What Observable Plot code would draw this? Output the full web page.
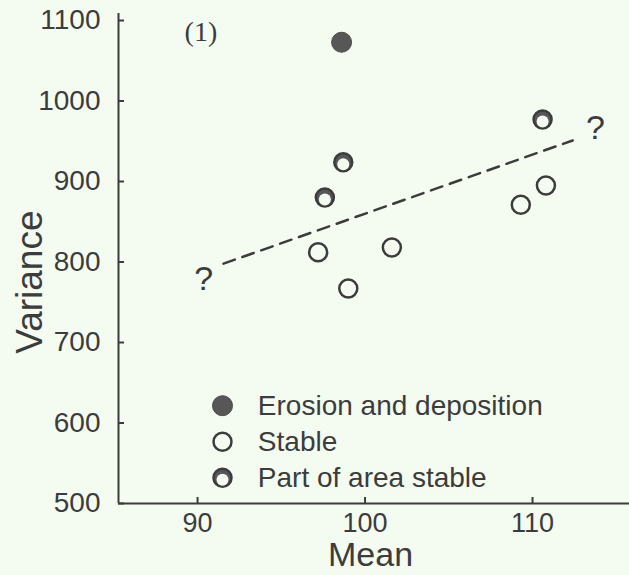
<!DOCTYPE html>
<html>
<head>
<meta charset="utf-8">
<script src="https://cdn.jsdelivr.net/npm/d3@7"></script>
<script src="https://cdn.jsdelivr.net/npm/@observablehq/plot@0.6"></script>
<style>
  html, body { margin: 0; padding: 0; background: #f4fbf1; }
  #chart svg { display: block; }
</style>
</head>
<body>
<div id="chart"></div>
<script>
// ---- data ----
const erosionMean = [98.6];
const erosionVar  = [1073];
const stableMean  = [97.2, 99.0, 101.6, 109.3, 110.8];
const stableVar   = [812, 767, 818, 871, 895];
const partMean    = [97.6, 98.7, 110.6];
const partVar     = [880, 924, 977];
const trendMean   = [91.55, 112.4];
const trendVar    = [798, 951];
const questionMean = [90.36, 113.76];
const questionVar  = [779, 966];
const legendLabels = ["Erosion and deposition", "Stable", "Part of area stable"];
const xTicks = [90, 100, 110];
const yTicks = [500, 600, 700, 800, 900, 1000, 1100];
const panelLabel = "(1)";
const xTitle = "Mean";
const yTitle = "Variance";

// ---- styling / layout ----
const ink = "#3c3c3c";
const bg = "#f4fbf1";
const dotFill = "#575757";
const R = 9, SW = 2.5;
const W = 629, H = 575, mL = 118, mR = 0, mT = 13, mB = 72;
const frameW = W - mL - mR, frameH = H - mT - mB;
const tickLen = 6;

const zip = (xs, ys) => xs.map((x, i) => ({x, y: ys[i]}));
const erosion = zip(erosionMean, erosionVar);
const stable = zip(stableMean, stableVar);
const part = zip(partMean, partVar);
const trend = zip(trendMean, trendVar);
const questions = zip(questionMean, questionVar);

const xMin = 85.28, xMax = 115.79;
const yMin = 500, yMax = 1108.7;

// legend layout (in data units)
const legX = 91.49, legTextX = 93.6, legTop = 621.5, legStep = 44.7;
const legend = legendLabels.map((label, i) => ({label, kind: i, x: legX, tx: legTextX, y: legTop - i * legStep}));

const partMarks = (data) => [
  Plot.dot(data, {x: "x", y: "y", r: R, fill: dotFill, stroke: ink, strokeWidth: SW}),
  Plot.dot(data, {x: "x", y: "y", r: 6, dy: 2, fill: bg, stroke: "none"})
];

const chart = Plot.plot({
  width: W,
  height: H,
  marginLeft: mL,
  marginRight: mR,
  marginTop: mT,
  marginBottom: mB,
  style: {background: bg, color: ink, fontFamily: "'Liberation Sans', Arial, sans-serif"},
  x: {domain: [xMin, xMax]},
  y: {domain: [yMin, yMax]},
  marks: [
    Plot.ruleY([yMin], {stroke: ink, strokeWidth: 2}),
    Plot.ruleX([xMin], {stroke: ink, strokeWidth: 2}),
    // inward tick marks
    Plot.tickY(yTicks, {y: d => d, insetRight: frameW - tickLen, stroke: ink, strokeWidth: 2}),
    Plot.tickX(xTicks, {x: d => d, insetTop: frameH - tickLen, stroke: ink, strokeWidth: 2}),
    // tick labels
    Plot.axisY({ticks: yTicks, tickSize: 0, tickPadding: 18, tickFormat: d => String(d), fontSize: 28, label: null, fill: ink}),
    Plot.axisX({ticks: xTicks, tickSize: 0, tickPadding: 9, tickFormat: d => String(d), fontSize: 27, label: null, fill: ink}),
    Plot.text([xTitle], {x: 100.33, y: yMin, dy: 52, lineAnchor: "middle", fontSize: 34, fill: ink}),
    Plot.text([yTitle], {x: xMin, y: 775, dx: -88, rotate: -90, fontSize: 37, fill: ink}),
    Plot.line(trend, {x: "x", y: "y", stroke: ink, strokeWidth: 2.5, strokeDasharray: "12,8"}),
    Plot.text(questions, {x: "x", y: "y", text: () => "?", fontSize: 34, fill: ink}),
    Plot.text([panelLabel], {x: 90.2, y: 1086, fontSize: 28, fontFamily: "'Liberation Serif', 'Times New Roman', serif", fill: ink}),
    Plot.dot(stable, {x: "x", y: "y", r: R, fill: "none", stroke: ink, strokeWidth: SW}),
    ...partMarks(part),
    Plot.dot(erosion, {x: "x", y: "y", r: R + 1, fill: dotFill, stroke: "#4a4a4a", strokeWidth: 1}),
    // legend
    Plot.dot(legend.filter(d => d.kind === 0), {x: "x", y: "y", r: R + 1, fill: dotFill, stroke: "#4a4a4a", strokeWidth: 1}),
    Plot.dot(legend.filter(d => d.kind === 1), {x: "x", y: "y", r: R, fill: "none", stroke: ink, strokeWidth: SW}),
    ...partMarks(legend.filter(d => d.kind === 2)),
    Plot.text(legend, {x: "tx", y: "y", text: "label", textAnchor: "start", fontSize: 28, fill: ink})
  ]
});
document.getElementById("chart").appendChild(chart);
</script>
</body>
</html>
